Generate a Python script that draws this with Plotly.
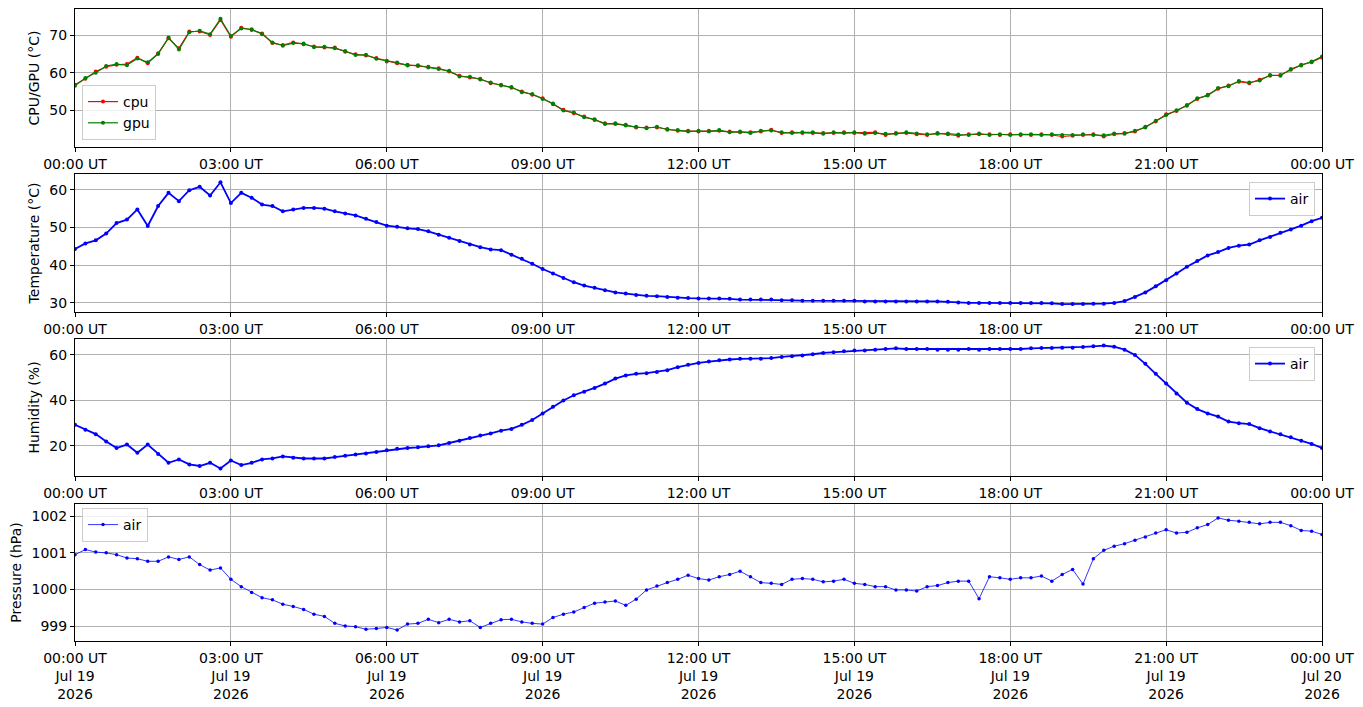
import pandas as pd
import plotly.graph_objects as go
from plotly.subplots import make_subplots

# --- Sample times (every 12 minutes over the day) ---
times = pd.date_range("2026-07-19 00:00", periods=121, freq="12min")

# --- Readings, one value per sample time ---
cpu = [56.8, 58.4, 60.3, 61.6, 62.1, 62.3, 64.0, 62.5, 65.2, 69.2,
       66.5, 71.0, 71.0, 70.1, 74.1, 69.6, 72.0, 71.4, 70.5, 67.9,
       67.4, 68.1, 67.6, 67.0, 66.7, 66.7, 65.6, 64.9, 64.6, 63.9,
       63.0, 62.5, 62.1, 61.8, 61.6, 61.2, 60.3, 59.2, 58.7, 58.4,
       57.2, 56.8, 56.0, 55.0, 54.1, 53.2, 51.6, 50.1, 49.2, 48.3,
       47.4, 46.5, 46.3, 46.1, 45.4, 45.4, 45.4, 45.0, 44.5, 44.5,
       44.3,
       44.5, 44.5, 44.3, 44.1, 44.1, 44.3, 44.8, 43.9, 44.1, 43.9,
       43.9, 43.9, 43.9, 44.1, 43.9, 43.9, 44.1, 43.4, 43.9, 43.9,
       43.6, 43.4, 43.9, 43.6, 43.2, 43.6, 43.6, 43.6, 43.4, 43.6,
       43.4, 43.4, 43.6, 43.4, 43.0, 43.2, 43.4, 43.6, 43.0, 43.6,
       43.9, 44.3, 45.6, 47.0, 48.9, 49.8, 51.4, 53.0, 54.1, 55.7,
       56.6, 57.6, 57.2, 58.1, 59.2, 59.4, 60.8, 62.1, 62.8, 64.1]

gpu = [56.5, 58.6, 60.0, 61.8, 62.3, 62.0, 63.8, 62.8, 65.0, 69.4,
       66.2, 70.8, 71.2, 70.3, 74.4, 69.8, 71.8, 71.6, 70.3, 68.1,
       67.2, 67.9, 67.8, 66.8, 66.9, 66.5, 65.8, 64.7, 64.8, 63.7,
       63.2, 62.7, 61.9, 62.0, 61.4, 61.0, 60.5, 59.0, 58.9, 58.2,
       57.4, 56.6, 56.2, 54.8, 54.3, 53.0, 51.8, 49.9, 49.4, 48.1,
       47.6, 46.3, 46.5, 45.9, 45.6, 45.2, 45.6, 44.8, 44.7, 44.3,
       44.5,
       44.3, 44.7, 44.1, 44.3, 43.9, 44.5, 44.6, 44.1, 43.9, 44.1,
       44.1, 43.7, 44.1, 43.9, 44.1, 43.7, 43.9, 43.7, 43.7, 44.1,
       43.8, 43.6, 43.7, 43.8, 43.5, 43.4, 43.8, 43.4, 43.6, 43.4,
       43.6, 43.6, 43.4, 43.6, 43.4, 43.4, 43.6, 43.4, 43.3, 43.8,
       43.7, 44.5, 45.4, 47.2, 48.7, 50.0, 51.2, 53.2, 53.9, 55.9,
       56.4, 57.8, 57.4, 57.9, 59.4, 59.2, 61.0, 61.9, 63.0, 64.3]

temperature = [44.3, 45.8, 46.6, 48.4, 51.2, 52.1, 54.8, 50.4, 55.7, 59.2,
               57.0, 59.9, 60.8, 58.5, 62.0, 56.5, 59.2, 57.9, 56.1, 55.7,
               54.3, 54.8, 55.2, 55.2, 55.0, 54.3, 53.7, 53.2, 52.3, 51.5,
               50.5, 50.2, 49.8, 49.6, 49.0, 48.1, 47.3, 46.4, 45.5, 44.8,
               44.2, 44.0, 42.8, 41.7, 40.4, 39.0, 37.8, 36.6, 35.5, 34.6,
               34.0, 33.4, 32.8, 32.5, 32.1, 31.9, 31.8, 31.6, 31.4, 31.3,
               31.2,
               31.2, 31.2, 31.1, 30.9, 30.9, 30.9, 30.9, 30.7, 30.7, 30.6,
               30.6, 30.6, 30.6, 30.6, 30.6, 30.4, 30.4, 30.4, 30.4, 30.4,
               30.4, 30.4, 30.4, 30.3, 30.1, 30.0, 30.0, 30.0, 30.0, 30.0,
               30.0, 30.0, 30.0, 29.9, 29.7, 29.7, 29.7, 29.8, 29.8, 30.0,
               30.5, 31.6, 32.8, 34.4, 36.0, 37.8, 39.6, 41.1, 42.6, 43.5,
               44.6, 45.2, 45.5, 46.6, 47.5, 48.6, 49.5, 50.5, 51.7, 52.6]

humidity = [29.3, 27.1, 25.2, 22.0, 19.1, 20.6, 17.0, 20.6, 16.5, 12.6,
            14.1, 11.9, 11.2, 12.6, 10.1, 13.6, 11.6, 12.6, 14.1, 14.5,
            15.4, 14.8, 14.5, 14.5, 14.5, 15.1, 15.7, 16.2, 16.7, 17.4,
            18.1, 18.8, 19.1, 19.4, 19.9, 20.3, 21.3, 22.3, 23.5, 24.6,
            25.5, 26.7, 27.5, 29.3, 31.4, 34.3, 37.2, 40.0, 42.3, 43.8,
            45.5, 47.4, 49.6, 51.0, 51.7, 52.0, 52.5, 53.3, 54.6, 55.7,
            56.5,
            57.1, 57.7, 58.0, 58.3, 58.3, 58.3, 58.6, 59.1, 59.4, 59.7,
            60.3, 60.9, 61.2, 61.6, 61.9, 61.9, 62.3, 62.6, 62.9, 62.6,
            62.6, 62.6, 62.3, 62.3, 62.3, 62.6, 62.3, 62.6, 62.6, 62.6,
            62.6, 62.9, 63.0, 63.0, 63.2, 63.2, 63.5, 63.8, 64.1, 63.6,
            62.3, 60.0, 56.1, 51.7, 47.4, 43.0, 39.0, 36.2, 34.3, 32.9,
            30.7, 30.0, 29.6, 27.8, 26.4, 25.2, 23.8, 22.3, 20.9, 19.1]

pressure = [1000.95, 1001.09, 1001.02, 1001.00, 1000.95, 1000.86, 1000.84, 1000.77, 1000.77, 1000.89,
            1000.82, 1000.89, 1000.68, 1000.53, 1000.59, 1000.28, 1000.08, 999.92, 999.78, 999.72,
            999.60, 999.54, 999.46, 999.33, 999.27, 999.08, 999.01, 998.99, 998.92, 998.94,
            998.97, 998.90, 999.06, 999.08, 999.19, 999.10, 999.19, 999.12, 999.15, 998.97,
            999.08, 999.18, 999.19, 999.12, 999.08, 999.06, 999.24, 999.33, 999.39, 999.51,
            999.63, 999.66, 999.69, 999.57, 999.74, 999.99, 1000.10, 1000.19, 1000.28, 1000.39,
            1000.30,
            1000.26, 1000.35, 1000.41, 1000.50, 1000.35, 1000.19, 1000.17, 1000.14, 1000.28, 1000.30,
            1000.28, 1000.21, 1000.23, 1000.28, 1000.17, 1000.14, 1000.08, 1000.08, 999.99, 999.99,
            999.96, 1000.08, 1000.11, 1000.19, 1000.23, 1000.23, 999.75, 1000.35, 1000.32, 1000.28,
            1000.32, 1000.32, 1000.37, 1000.23, 1000.41, 1000.55, 1000.15, 1000.84, 1001.07, 1001.18,
            1001.25, 1001.34, 1001.43, 1001.54, 1001.63, 1001.54, 1001.56, 1001.68, 1001.77, 1001.95,
            1001.89, 1001.86, 1001.83, 1001.79, 1001.83, 1001.83, 1001.74, 1001.61, 1001.59, 1001.50]

# --- Tick positions and labels ---
tick_times = ["2026-07-19 00:00", "2026-07-19 03:00", "2026-07-19 06:00",
              "2026-07-19 09:00", "2026-07-19 12:00", "2026-07-19 15:00",
              "2026-07-19 18:00", "2026-07-19 21:00", "2026-07-20 00:00"]
hour_labels = ["00:00 UT", "03:00 UT", "06:00 UT", "09:00 UT", "12:00 UT",
               "15:00 UT", "18:00 UT", "21:00 UT", "00:00 UT"]
day_labels = ["Jul 19", "Jul 19", "Jul 19", "Jul 19", "Jul 19",
              "Jul 19", "Jul 19", "Jul 19", "Jul 20"]
year_labels = ["2026"] * 9
bottom_labels = [f"{h}<br>{d}<br>{y}" for h, d, y in zip(hour_labels, day_labels, year_labels)]

FONT = "DejaVu Sans"
W, H = 1363, 707
OFF = 8  # page body margin pushes the figure 8px right/down

fig = make_subplots(rows=4, cols=1)


def series(y, name, color, legend, row, lw, ms):
    fig.add_trace(go.Scatter(
        x=times, y=y, name=name, mode="lines+markers",
        line=dict(color=color, width=lw),
        marker=dict(color=color, size=ms),
        legend=legend,
    ), row=row, col=1)


series(cpu, "cpu", "red", "legend", 1, 1.2, 4)
series(gpu, "gpu", "green", "legend", 1, 1.2, 4)
series(temperature, "air", "blue", "legend2", 2, 1.8, 4)
series(humidity, "air", "blue", "legend3", 3, 1.8, 4)
series(pressure, "air", "blue", "legend4", 4, 0.8, 3.5)


def px_x(x):
    return (x - OFF) / W


def px_y(y):
    return (H - (y - OFF)) / H


# --- Axis styling (boxed, gray grid) ---
x_dom = [px_x(75), px_x(1322)]
y_doms = [[px_y(147), px_y(9)], [px_y(312), px_y(174)],
          [px_y(476), px_y(339)], [px_y(641), px_y(504)]]
y_ranges = [[40.2, 77.0], [27.6, 64.2], [6.8, 67.0], [998.6, 1002.33]]
y_ticks = [[50, 60, 70], [30, 40, 50, 60], [20, 40, 60], [999, 1000, 1001, 1002]]
y_titles = ["CPU/GPU (°C)", "Temperature (°C)", "Humidity (%)", "Pressure (hPa)"]

axis_style = dict(showline=True, mirror=True, linecolor="black", linewidth=1,
                  ticks="outside", ticklen=4, tickwidth=1, tickcolor="black",
                  showgrid=True, gridcolor="#b0b0b0", gridwidth=0.8,
                  zeroline=False, automargin=False,
                  tickfont=dict(family=FONT, size=14, color="black"))

for i in range(4):
    fig.update_xaxes(axis_style, domain=x_dom,
                     range=["2026-07-19 00:00", "2026-07-20 00:00"],
                     tickvals=tick_times,
                     ticktext=bottom_labels if i == 3 else hour_labels,
                     row=i + 1, col=1)
    fig.update_yaxes(axis_style, domain=y_doms[i], range=y_ranges[i],
                     tickvals=y_ticks[i],
                     title=dict(text=y_titles[i], standoff=6,
                                font=dict(family=FONT, size=14, color="black")),
                     row=i + 1, col=1)

legend_style = dict(bgcolor="rgba(255,255,255,0.8)", bordercolor="#cccccc", borderwidth=1,
                    font=dict(family=FONT, size=14, color="black"), itemwidth=30)

fig.update_layout(
    width=W, height=H,
    margin=dict(l=0, r=0, t=0, b=0),
    paper_bgcolor="white", plot_bgcolor="white",
    font=dict(family=FONT, size=14, color="black"),
    legend=dict(legend_style, x=px_x(82), y=px_y(140), xanchor="left", yanchor="bottom"),
    legend2=dict(legend_style, x=px_x(1315), y=px_y(182), xanchor="right", yanchor="top"),
    legend3=dict(legend_style, x=px_x(1315), y=px_y(347), xanchor="right", yanchor="top"),
    legend4=dict(legend_style, x=px_x(82), y=px_y(508), xanchor="left", yanchor="top"),
)

fig.write_html("out.html")
